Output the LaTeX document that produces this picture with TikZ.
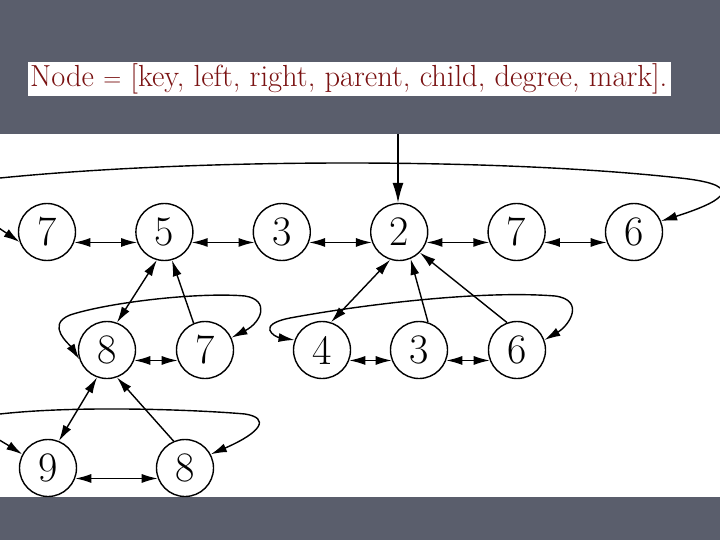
\documentclass[tikz,border=0pt]{standalone}
\usetikzlibrary{arrows.meta}
\definecolor{slidegray}{RGB}{90,94,108}
\definecolor{keyred}{RGB}{122,18,18}
\begin{document}
\begin{tikzpicture}[
  x=1pt, y=-1pt,
  >={Latex[length=16pt,width=9pt]},
  vnode/.style={circle, draw=black, fill=white, line width=1.4pt, inner sep=0pt, minimum size=57pt, font=\fontsize{42}{42}\selectfont},
  edge/.style={line width=1.4pt, draw=black},
  headtext/.style={font=\fontsize{30.5}{36}\selectfont, text=keyred, anchor=base west, inner sep=0pt}
]
  \useasboundingbox (0,0) rectangle (720,540);
  \clip (0,0) rectangle (720,540);

  % Fondo
  \fill[slidegray] (0,0) rectangle (720,134);
  \fill[white] (0,134) rectangle (720,497);
  \fill[slidegray] (0,497) rectangle (720,540);

  % Encabezado
  \fill[white] (28,62) rectangle (671,96);
  \node[headtext] (campos) at (30,87) {Node $=$ [key, left, right, parent, child, degree, mark].};

  % Lista de raices
  \foreach \k [count=\i] in {7,5,3,2,7,6} {
    \node[vnode] (r\i) at ({47+117.4*(\i-1)},232) {\k};
  }

  % Hijos y nietos
  \foreach \name/\x/\y/\k in {c1/107/350/8, c2/205/350/7, d1/322/350/4, d2/419/350/3,
                              d3/517/350/6, g1/48/468/9, g2/185/468/8} {
    \node[vnode] (\name) at (\x,\y) {\k};
  }

  % Enlaces izquierda/derecha
  \foreach \i [count=\j from 2] in {1,...,5} {
    \draw[edge, <->] (r\i.-21) -- (r\j.201);
  }
  \draw[edge, <->] (c1.-21) -- (c2.201);
  \draw[edge, <->] (d1.-21) -- (d2.201);
  \draw[edge, <->] (d2.-21) -- (d3.201);
  \draw[edge, <->] (g1.-21) -- (g2.201);

  % Listas circulares
  \draw[edge, <->] (r1.200) .. controls (-10,222) and (-60,190) .. (0,178)
    .. controls (200,158) and (500,158) .. (680,178)
    .. controls (755,186) and (715,204) .. (r6.22);
  \draw[edge, <->] (c1.199) .. controls (70,345) and (45,325) .. (70,315)
    .. controls (110,302) and (200,292) .. (245,296)
    .. controls (270,300) and (262,322) .. (c2.25);
  \draw[edge, <->] (d1.160) .. controls (275,337) and (255,325) .. (290,318)
    .. controls (360,305) and (480,290) .. (555,296)
    .. controls (585,300) and (570,325) .. (d3.20);
  \draw[edge, <->] (g1.152) .. controls (0,440) and (-40,420) .. (0,414)
    .. controls (80,405) and (200,410) .. (245,414)
    .. controls (270,418) and (262,432) .. (g2.28);

  % Padre e hijo
  \draw[edge, <->] (r2.255) -- (c1.70);
  \draw[edge, ->] (c2.113) -- (r2.-75);
  \draw[edge, <->] (r4.252) -- (d1.72);
  \draw[edge, ->] (d2.72) -- (r4.-67);
  \draw[edge, ->] (d3.110) -- (r4.-45);
  \draw[edge, <->] (c1.250) -- (g1.68);
  \draw[edge, ->] (g2.113) -- (c1.-70);

  % Puntero al minimo
  \coordinate (minimo) at (398,134);
  \draw[edge, ->, >={Latex[length=20pt,width=11pt]}] (minimo) -- (minimo |- r4.north);
\end{tikzpicture}
\end{document}
